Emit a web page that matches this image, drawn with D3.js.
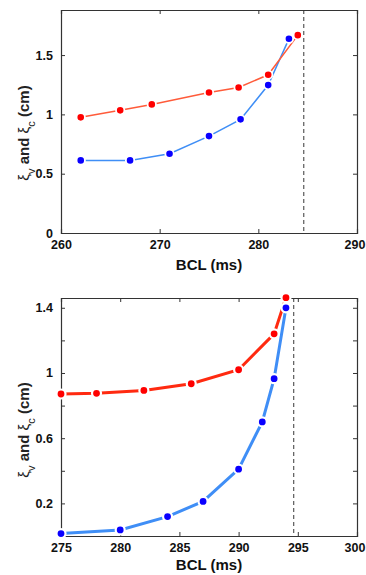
<!DOCTYPE html>
<html><head><meta charset="utf-8">
<script src="https://cdn.jsdelivr.net/npm/d3@7"></script>
<style>
html,body{margin:0;padding:0;background:#fff;}
svg{display:block;font-family:"Liberation Sans",Arial,sans-serif;}
</style></head>
<body>
<svg id="c" width="366" height="575"></svg>
<script>
// ---- Panel A data ----
const bclA = [262, 266, 269.2, 275, 278, 281, 284];
const xiVA = [0.975, 1.034, 1.084, 1.185, 1.227, 1.334, 1.668];
const bclAc = [262, 267, 271, 275, 278.2, 281, 283.1];
const xiCA = [0.612, 0.612, 0.668, 0.817, 0.958, 1.247, 1.637];
const xTicksA = [260, 270, 280, 290];
const yTicksA = [0, 0.5, 1, 1.5];
const yLabelsA = [0, 0.5, 1, 1.5];
const critA = 284.6;

// ---- Panel B data ----
const bclB = [275, 278, 282, 286, 290, 293, 294];
const xiVB = [0.871, 0.875, 0.893, 0.934, 1.02, 1.24, 1.462];
const bclBc = [275, 280, 284, 287, 290, 292, 293, 294];
const xiCB = [0.015, 0.037, 0.119, 0.212, 0.41, 0.70, 0.965, 1.40];
const xTicksB = [275, 280, 285, 290, 295, 300];
const yTicksB = [0.2, 0.4, 0.6, 0.8, 1, 1.2, 1.4];
const yLabelsB = [0.2, 0.6, 1, 1.4];
const critB = 294.65;

const svg = d3.select("#c");

function panel(o) {
  const x = d3.scaleLinear().domain(o.xd).range([61, 357]);
  const y = d3.scaleLinear().domain(o.yd).range([o.bottom, o.top]);
  const g = svg.append("g");
  const tl = 4;
  // dashed critical line
  g.append("line").attr("x1", x(o.crit)).attr("x2", x(o.crit))
    .attr("y1", o.top).attr("y2", o.bottom)
    .attr("stroke", "#666").attr("stroke-width", 1.3).attr("stroke-dasharray", "4,3");
  // axes with inward ticks
  const fmt = d => (o.ylabels.includes(d) ? d3.format("~g")(d) : "");
  const ax = [
    [d3.axisBottom(x).tickValues(o.xt).tickSize(-tl).tickPadding(7).tickFormat(d3.format("d")), `translate(0,${o.bottom})`, "b"],
    [d3.axisTop(x).tickValues(o.xt).tickSize(-tl).tickFormat(""), `translate(0,${o.top})`, "t"],
    [d3.axisLeft(y).tickValues(o.yt).tickSize(-tl).tickPadding(8).tickFormat(fmt), `translate(61,0)`, "l"],
    [d3.axisRight(y).tickValues(o.yt).tickSize(-tl).tickFormat(""), `translate(357,0)`, "r"]
  ];
  ax.forEach(([a, t, k]) => {
    const ag = g.append("g").attr("transform", t).call(a);
    ag.select(".domain").attr("stroke", "#333").attr("stroke-width", 1.2);
    ag.selectAll(".tick line").attr("stroke", "#333").attr("stroke-width", 1);
    ag.selectAll("text").attr("fill", "#111").style("font-size", "12.5px").style("font-weight", "bold")
      .style("font-family", "'Liberation Sans',Arial,sans-serif");
    if (k === "b") {
      const last = o.xt[o.xt.length - 1];
      ag.selectAll(".tick").filter(d => d === last).select("text").attr("dx", -2.5);
    }
  });
  const line = d3.line().x(d => x(d[0])).y(d => y(d[1]));
  const series = [
    {xs: o.cx, ys: o.cy, lc: "#3f8ef6", mc: "#0a00ff"},
    {xs: o.vx, ys: o.vy, lc: o.redLine, mc: "#ff0000"}
  ];
  series.forEach(s => {
    const pts = s.xs.map((v, i) => [v, s.ys[i]]);
    g.append("path").datum(pts).attr("d", line).attr("fill", "none")
      .attr("stroke", s.lc).attr("stroke-width", o.lw);
  });
  series.forEach(s => {
    const pts = s.xs.map((v, i) => [v, s.ys[i]]);
    g.selectAll(null).data(pts).enter().append("circle")
      .attr("cx", d => x(d[0])).attr("cy", d => y(d[1])).attr("r", o.r)
      .attr("fill", s.mc).attr("stroke", "#fff").attr("stroke-width", o.ms);
  });
  // x label
  g.append("text").attr("x", 209).attr("y", o.xlabY).attr("text-anchor", "middle")
    .style("font-size", "15px").style("font-weight", "bold").attr("fill", "#111").text("BCL (ms)");
  // y label
  const yl = g.append("text").attr("transform", `translate(${o.ylabX},${o.ylabC}) rotate(-90)`)
    .attr("text-anchor", "middle").style("font-size", "15px").style("font-weight", "bold").attr("fill", "#222");
  yl.append("tspan").style("font-weight", "normal").text("ξ");
  yl.append("tspan").attr("baseline-shift", "sub").style("font-size", "11px").style("font-weight", "normal").text("v");
  yl.append("tspan").text(" and ");
  yl.append("tspan").style("font-weight", "normal").text("ξ");
  yl.append("tspan").attr("baseline-shift", "sub").style("font-size", "11px").style("font-weight", "normal").text("c");
  yl.append("tspan").text(" (cm)");
}

panel({xd: [260, 290], yd: [0, 1.88], top: 10, bottom: 233,
  xt: xTicksA, yt: yTicksA, ylabels: yLabelsA, crit: critA,
  vx: bclA, vy: xiVA, cx: bclAc, cy: xiCA,
  redLine: "#ff5b3a", lw: 1.5, r: 4.2, ms: 1.8, xlabY: 270, ylabX: 29, ylabC: 133});

panel({xd: [275, 300], yd: [0, 1.46], top: 298, bottom: 536,
  xt: xTicksB, yt: yTicksB, ylabels: yLabelsB, crit: critB,
  vx: bclB, vy: xiVB, cx: bclBc, cy: xiCB,
  redLine: "#ff2a10", lw: 3, r: 4.5, ms: 2.2, xlabY: 570, ylabX: 29, ylabC: 430});
</script>
</body></html>
